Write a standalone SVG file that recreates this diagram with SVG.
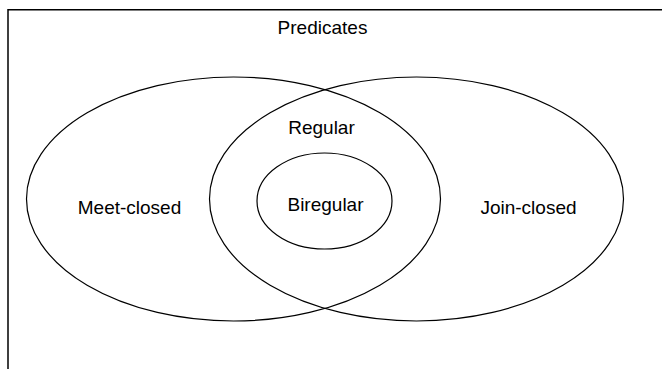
<svg xmlns="http://www.w3.org/2000/svg" width="662" height="369" viewBox="0 0 662 369">
  <style>
    .set { fill: none; stroke: #000; stroke-width: 1.2; }
    .frame { fill: none; stroke: #000; stroke-width: 1.5; }
    .label { font-family: "Liberation Sans", Arial, sans-serif; font-size: 19px; fill: #000; text-anchor: middle; }
  </style>
  <rect width="662" height="369" fill="#fff"/>

  <!-- Universe of predicates: frame open at right and bottom -->
  <g id="predicates">
    <path class="frame" d="M8,369 V9.75 H662"/>
    <text class="label" x="322.5" y="34">Predicates</text>
  </g>

  <g id="meet-closed">
    <ellipse class="set" cx="233.5" cy="199" rx="207" ry="122"/>
    <text class="label" x="129.5" y="214">Meet-closed</text>
  </g>

  <g id="join-closed">
    <ellipse class="set" cx="416.5" cy="199" rx="207" ry="122"/>
    <text class="label" x="528.5" y="214">Join-closed</text>
  </g>

  <!-- Intersection of the two closures -->
  <g id="regular">
    <text class="label" x="321.5" y="134">Regular</text>
  </g>

  <g id="biregular">
    <ellipse class="set" cx="324.5" cy="201" rx="67.5" ry="48"/>
    <text class="label" x="325.5" y="211">Biregular</text>
  </g>
</svg>
